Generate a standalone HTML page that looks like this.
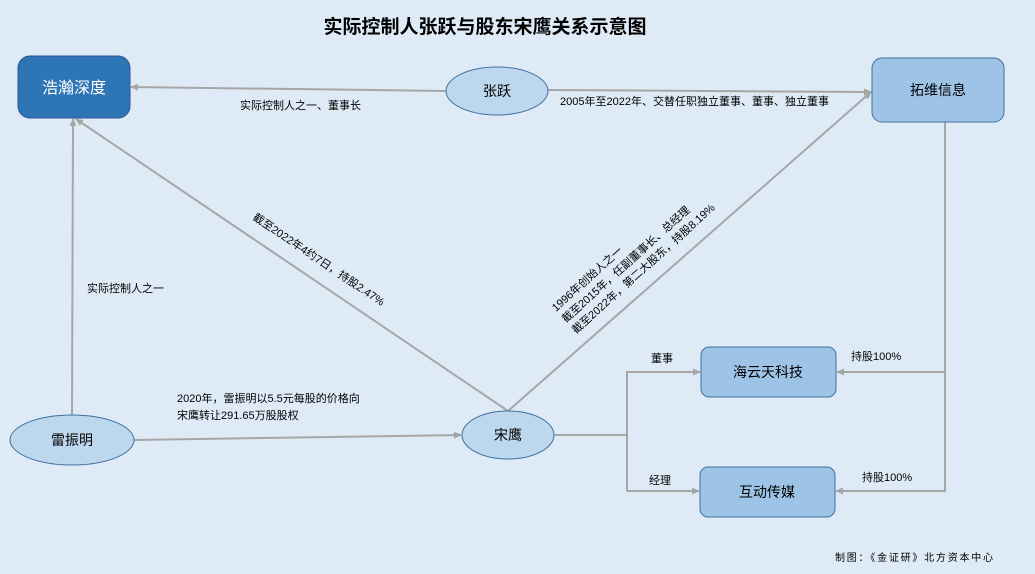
<!DOCTYPE html>
<html><head><meta charset="utf-8"><style>
body{margin:0;background:#deebf7;}
svg{display:block;font-family:"Liberation Sans","Noto Sans CJK SC",sans-serif;}
</style></head><body>
<svg width="1035" height="574" viewBox="0 0 1035 574" xmlns="http://www.w3.org/2000/svg">
<defs><marker id="a" markerWidth="8" markerHeight="8" refX="7" refY="4" orient="auto" markerUnits="userSpaceOnUse"><path d="M0,0.5 L8,4 L0,7.5 Z" fill="#a6a6a6"/></marker></defs>
<rect width="1035" height="574" fill="#deebf7"/>
<text x="485" y="33" font-size="19" font-weight="bold" text-anchor="middle" fill="#000">实际控制人张跃与股东宋鹰关系示意图</text>
<g stroke="#a6a6a6" stroke-width="2" fill="none">
<line x1="446" y1="91" x2="131" y2="87" marker-end="url(#a)"/>
<line x1="548" y1="90" x2="871" y2="92" marker-end="url(#a)"/>
<line x1="508" y1="411" x2="76" y2="119" marker-end="url(#a)"/>
<line x1="508" y1="411" x2="871" y2="92" marker-end="url(#a)"/>
<line x1="72" y1="415" x2="73" y2="119" marker-end="url(#a)"/>
<line x1="134" y1="440" x2="461" y2="435" marker-end="url(#a)"/>
<polyline points="554,435 627,435"/>
<polyline points="627,491 627,372 700,372" marker-end="url(#a)"/>
<polyline points="627,491 699,491" marker-end="url(#a)"/>
<polyline points="945,122 945,491 836,491" marker-end="url(#a)"/>
<polyline points="945,372 837,372" marker-end="url(#a)"/>
</g>
<rect x="18" y="56" width="112" height="62" rx="12" fill="#2e75b6" stroke="#2f5597"/>
<text x="74" y="93" font-size="16" fill="#fff" text-anchor="middle">浩瀚深度</text>
<rect x="872" y="58" width="132" height="64" rx="10" fill="#9dc3e6" stroke="#41719c"/>
<text x="938" y="95" font-size="14" text-anchor="middle">拓维信息</text>
<rect x="701" y="347" width="135" height="50" rx="8" fill="#9dc3e6" stroke="#41719c"/>
<text x="768" y="377" font-size="14" text-anchor="middle">海云天科技</text>
<rect x="700" y="467" width="135" height="50" rx="8" fill="#9dc3e6" stroke="#41719c"/>
<text x="767" y="497" font-size="14" text-anchor="middle">互动传媒</text>
<ellipse cx="497" cy="91" rx="51" ry="24" fill="#bdd7ee" stroke="#41719c"/>
<text x="497" y="96" font-size="14" text-anchor="middle">张跃</text>
<ellipse cx="72" cy="440" rx="62" ry="25" fill="#bdd7ee" stroke="#41719c"/>
<text x="72" y="445" font-size="14" text-anchor="middle">雷振明</text>
<ellipse cx="508" cy="435" rx="46" ry="24" fill="#bdd7ee" stroke="#41719c"/>
<text x="508" y="440" font-size="14" text-anchor="middle">宋鹰</text>
<g font-size="11" fill="#000">
<text x="240" y="109">实际控制人之一、董事长</text>
<text x="560" y="105">2005年至2022年、交替任职独立董事、董事、独立董事</text>
<text x="87" y="292">实际控制人之一</text>
<text x="177" y="402">2020年，雷振明以5.5元每股的价格向</text>
<text x="177" y="419">宋鹰转让291.65万股股权</text>
<text x="651" y="362">董事</text>
<text x="649" y="484">经理</text>
<text x="851" y="360">持股100%</text>
<text x="862" y="481">持股100%</text>
<text transform="translate(252,219) rotate(34)">截至2022年4约7日，持股2.47%</text>
<g transform="translate(556,312) rotate(-42)">
<text x="0" y="0">1996年创始人之一</text>
<text x="0" y="15">截至2015年，任副董事长、总经理</text>
<text x="0" y="30">截至2022年，第二大股东，持股8.19%</text>
</g>
<text x="835" y="561" font-size="10" textLength="158" lengthAdjust="spacing">制图：《金证研》北方资本中心</text>
</g>
</svg>
</body></html>
